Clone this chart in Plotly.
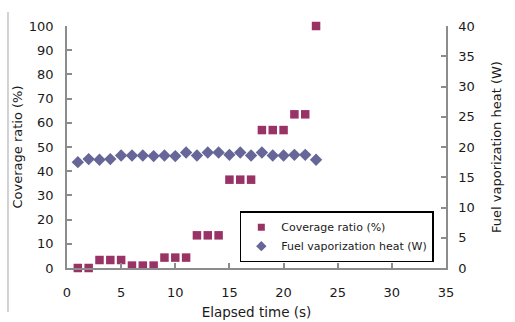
import plotly.graph_objects as go

time_s = list(range(1, 24))
coverage_ratio = [0, 0, 3.3, 3.3, 3.3, 1, 1, 1, 4.3, 4.3, 4.3, 13.5, 13.5, 13.5,
                  36.5, 36.5, 36.5, 57, 57, 57, 63.5, 63.5, 100]
vapor_heat = [17.5, 18.0, 17.9, 18.0, 18.6, 18.6, 18.6, 18.5, 18.6, 18.5, 19.1, 18.6,
              19.1, 19.1, 18.7, 19.1, 18.6, 19.1, 18.6, 18.6, 18.7, 18.7, 17.9]

x_ticks = [0, 5, 10, 15, 20, 25, 30, 35]
y1_ticks = list(range(0, 101, 10))
y2_ticks = list(range(0, 41, 5))

FONT = "DejaVu Sans, Verdana, sans-serif"
AX = "#8c8c8c"
TXT = "#1a1a1a"
C1 = "#993366"
C2 = "#666699"

fig = go.Figure()
fig.add_trace(go.Scatter(
    x=time_s, y=coverage_ratio, mode="markers", name="Coverage ratio (%)",
    marker=dict(symbol="square", size=8.5, color=C1), cliponaxis=False, showlegend=False,
))
fig.add_trace(go.Scatter(
    x=time_s, y=vapor_heat, mode="markers", name="Fuel vaporization heat (W)",
    yaxis="y2", cliponaxis=False, showlegend=False,
    marker=dict(symbol="diamond", size=9.5, color=C2),
))
# legend-only entries with smaller symbols
fig.add_trace(go.Scatter(x=[None], y=[None], mode="markers", name="Coverage ratio (%)",
                         marker=dict(symbol="square", size=7, color=C1)))
fig.add_trace(go.Scatter(x=[None], y=[None], mode="markers", name="Fuel vaporization heat (W)",
                         marker=dict(symbol="diamond", size=8, color=C2)))

axis_common = dict(showgrid=False, zeroline=False, showline=True, linecolor=AX,
                   linewidth=1.5, ticks="inside", ticklen=5, tickcolor=AX, tickwidth=1.5,
                   automargin=False,
                   tickfont=dict(family=FONT, size=13, color=TXT))

fig.update_layout(
    width=515, height=322,
    margin=dict(l=67, r=69, t=26, b=54),
    paper_bgcolor="white", plot_bgcolor="white",
    font=dict(family=FONT, size=13, color=TXT),
    xaxis=dict(range=[0, 35], tickvals=x_ticks, ticklabelstandoff=12,
               title=dict(text="Elapsed time (s)", standoff=8, font=dict(size=13.5)),
               **axis_common),
    yaxis=dict(range=[0, 100], tickvals=y1_ticks, ticklabelstandoff=9,
               title=dict(text="Coverage ratio (%)", standoff=3, font=dict(size=13)),
               **axis_common),
    yaxis2=dict(range=[0, 40], tickvals=y2_ticks, overlaying="y", side="right",
                ticklabelstandoff=8,
                title=dict(text="Fuel vaporization heat (W)", standoff=18, font=dict(size=13)),
                **axis_common),
    showlegend=True,
    legend=dict(x=0.456, y=0.235, xanchor="left", yanchor="top",
                bgcolor="white", bordercolor="black", borderwidth=1.5,
                font=dict(family=FONT, size=11, color=TXT),
                tracegroupgap=0, itemwidth=30),
    shapes=[dict(type="line", xref="paper", yref="paper", x0=-0.1557, x1=-0.1557,
                 y0=-0.182, y1=1.058, line=dict(color="#c4c4c4", width=1.5))],
)

fig.write_html("out.html")
